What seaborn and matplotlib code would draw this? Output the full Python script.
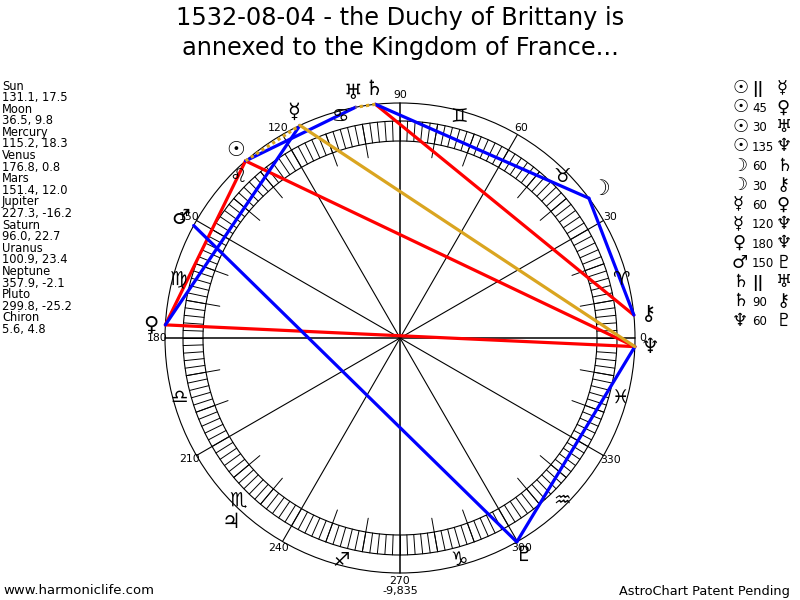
import numpy as np
import pandas as pd
import matplotlib.pyplot as plt
import seaborn as sns

# planet data: ecliptic longitude, latitude
planets = ["Sun", "Moon", "Mercury", "Venus", "Mars", "Jupiter", "Saturn",
           "Uranus", "Neptune", "Pluto", "Chiron"]
glyphs = ["☉", "☽", "☿", "♀", "♂", "♃", "♄", "♅", "♆", "♇", "⚷"]
longitudes = [131.1, 36.5, 115.2, 176.8, 151.4, 227.3, 96.0, 100.9, 357.9, 299.8, 5.6]
latitudes = [17.5, 9.8, 18.3, 0.8, 12.0, -16.2, 22.7, 23.4, -2.1, -25.2, 4.8]

# aspects: first planet, aspect, second planet
asp_from = ["Sun", "Sun", "Sun", "Sun", "Moon", "Moon", "Mercury", "Mercury",
            "Venus", "Mars", "Saturn", "Saturn", "Neptune"]
asp_kind = ["||", "45", "30", "135", "60", "30", "60", "120",
            "180", "150", "||", "90", "60"]
asp_to = ["Mercury", "Venus", "Uranus", "Neptune", "Saturn", "Chiron", "Venus", "Neptune",
          "Neptune", "Pluto", "Uranus", "Chiron", "Pluto"]

signs = ["♈", "♉", "♊", "♋", "♌", "♍", "♎", "♏", "♐", "♑", "♒", "♓"]
degree_labels = list(range(0, 360, 30))

title = "1532-08-04 - the Duchy of Brittany is\nannexed to the Kingdom of France..."

kind_color = {"||": "#DAA520", "120": "#DAA520",
              "30": "#0000FF", "60": "#0000FF", "150": "#0000FF",
              "45": "#FF0000", "90": "#FF0000", "135": "#FF0000", "180": "#FF0000"}

CX, CY, R = 400, 338, 235


def pos(deg, r):
    a = np.radians(deg)
    return CX + r * np.cos(a), CY - r * np.sin(a)


sns.set_style("white")
plt.rcParams["font.family"] = ["DejaVu Sans"]
plt.rcParams["text.color"] = "black"

fig = plt.figure(figsize=(8, 6), dpi=100)
ax = fig.add_axes([0, 0, 1, 1])
ax.set_xlim(0, 800)
ax.set_ylim(600, 0)
ax.set_aspect("equal")
ax.axis("off")

# wheel
for r in [R, 217, 197]:
    ax.add_patch(plt.Circle((CX, CY), r, fill=False, color="black", lw=0.8))
for d in range(0, 360, 2):
    x0, y0 = pos(d, 197)
    x1, y1 = pos(d, 217)
    ax.plot([x0, x1], [y0, y1], color="black", lw=0.7)
for d in range(0, 360, 10):
    if d % 30:
        x0, y0 = pos(d, 183)
        x1, y1 = pos(d, 217)
        ax.plot([x0, x1], [y0, y1], color="black", lw=0.7)
for d in degree_labels:
    x1, y1 = pos(d, R)
    ax.plot([CX, x1], [CY, y1], color="black", lw=0.8 if d % 90 else 1.1)
    lx, ly = pos(d, 243)
    ax.text(lx, ly, str(d), fontsize=7.8, ha="center", va="center")
ax.text(CX, 591, "-9,835", fontsize=8, ha="center", va="center")

for i, s in enumerate(signs):
    x, y = pos(15 + 30 * i, 229)
    ax.text(x, y, s, fontsize=14, ha="center", va="center")

# aspect chords
lon = dict(zip(planets, longitudes))
rows = []
for k, (a, kind, b) in enumerate(zip(asp_from, asp_kind, asp_to)):
    for p in (a, b):
        x, y = pos(lon[p], R)
        rows.append({"seg": k, "x": x, "y": y, "kind": kind,
                     "color": kind_color[kind], "par": kind == "||"})
df = pd.DataFrame(rows)
solid = df[~df["par"]]
dotted = df[df["par"]]
pal = {c: c for c in df["color"].unique()}
sns.lineplot(data=solid, x="x", y="y", units="seg", estimator=None, sort=False,
             hue="color", palette=pal, lw=2.3, legend=False, ax=ax)
sns.lineplot(data=dotted, x="x", y="y", units="seg", estimator=None, sort=False,
             hue="color", palette=pal, lw=2.3, linestyle=(0, (1, 1)), legend=False, ax=ax)

# planet glyphs
for g, l in zip(glyphs, longitudes):
    x, y = pos(l, 250)
    ax.text(x, y, g, fontsize=15, ha="center", va="center", fontweight="bold")

ax.text(400, 33, title, fontsize=17.3, ha="center", va="center", linespacing=1.32)

# left listing
y = 86
for name, l, b in zip(planets, longitudes, latitudes):
    ax.text(2, y, name, fontsize=8.3, ha="left", va="center")
    ax.text(2, y + 11.6, f"{l:.1f}, {b:.1f}", fontsize=8.3, ha="left", va="center")
    y += 23.2

# right aspect list
gmap = dict(zip(planets, glyphs))
y = 88
for a, kind, b in zip(asp_from, asp_kind, asp_to):
    ax.text(732, y, gmap[a], fontsize=13, ha="left", va="center", fontweight="bold")
    ax.text(752, y + 1, kind, fontsize=8.5 if kind != "||" else 11, ha="left", va="center",
            fontweight="bold" if kind == "||" else "normal")
    ax.text(776, y, gmap[b], fontsize=13, ha="left", va="center", fontweight="bold")
    y += 19.4

ax.text(3, 591, "www.harmoniclife.com", fontsize=9.5, ha="left", va="center")
ax.text(790, 591, "AstroChart Patent Pending", fontsize=9.3, ha="right", va="center")

fig.savefig("out.png", dpi=100)
